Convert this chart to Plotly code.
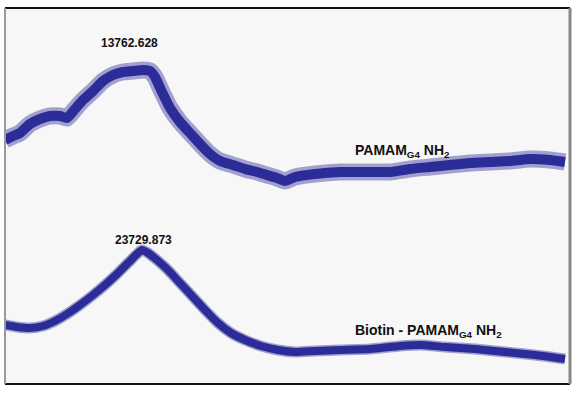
import plotly.graph_objects as go
from plotly.subplots import make_subplots

# Scan position (arbitrary units, left to right)
top_x = [0, 8, 15, 25, 35, 45, 55, 62, 70, 78, 88, 98, 108, 118, 128, 138, 145, 150, 157,
         165, 175, 185, 195, 205, 215, 228, 240, 252, 262, 272, 280, 290, 310, 335, 360, 385,
         405, 425, 445, 465, 485, 505, 525, 545, 560]
# Intensity of PAMAM G4 NH2 (arbitrary units)
top_y = [56, 60, 63, 72, 77, 80, 80, 78, 87, 96, 105, 115, 121, 124, 125, 126, 125, 119, 104,
         88, 74, 63, 52, 42, 35, 31, 27, 24, 21, 18, 15, 19, 22, 24, 24, 24,
         27, 29, 31, 33, 34, 35, 37, 36, 34]

bot_x = [0, 12, 25, 38, 50, 62, 75, 88, 100, 112, 124, 132, 137, 143, 152, 163, 175, 188,
         201, 213, 226, 240, 256, 273, 290, 310, 335, 365, 395, 415, 440, 470, 500, 530, 560]
# Intensity of Biotin-PAMAM G4 NH2 (arbitrary units)
bot_y = [59, 57, 56, 58, 63, 70, 79, 89, 99, 110, 122, 130, 134, 131, 124, 114, 101, 87,
         73, 61, 51, 44, 38, 34, 32, 33, 34, 35, 38, 39, 37, 35, 32, 29, 25]

top_peak_label = "13762.628"
top_peak_x = 124
top_peak_y = 153
bot_peak_label = "23729.873"
bot_peak_x = 138
bot_peak_y = 144

top_name = "PAMAM<sub>G4</sub> NH<sub>2</sub>"
bot_name = "Biotin - PAMAM<sub>G4</sub> NH<sub>2</sub>"

col = "#2c2c98"
halo = "rgba(44,44,152,0.42)"

fig = make_subplots(rows=2, cols=1, shared_xaxes=True, vertical_spacing=0)

for xs, ys, row, wcore, whalo in [(top_x, top_y, 1, 10, 17), (bot_x, bot_y, 2, 8, 11)]:
    fig.add_trace(go.Scatter(x=xs, y=ys, mode="lines",
                             line=dict(color=halo, width=whalo, shape="spline", smoothing=0.5),
                             hoverinfo="skip", showlegend=False), row=row, col=1)
    fig.add_trace(go.Scatter(x=xs, y=ys, mode="lines",
                             line=dict(color=col, width=wcore, shape="spline", smoothing=0.5),
                             showlegend=False), row=row, col=1)

fnt = dict(family="Liberation Sans, Arial, sans-serif", size=12, color="#111111")
fig.add_annotation(x=top_peak_x, y=top_peak_y, xref="x", yref="y", text="<b>%s</b>" % top_peak_label,
                   showarrow=False, font=fnt)
fig.add_annotation(x=bot_peak_x, y=bot_peak_y, xref="x2", yref="y2", text="<b>%s</b>" % bot_peak_label,
                   showarrow=False, font=fnt)
fig.add_annotation(x=397, y=45, xref="x", yref="y", text="<b>%s</b>" % top_name,
                   showarrow=False, font=dict(fnt, size=14))
fig.add_annotation(x=423, y=53, xref="x2", yref="y2", text="<b>%s</b>" % bot_name,
                   showarrow=False, font=dict(fnt, size=14))

for ax in ["xaxis", "xaxis2"]:
    fig.layout[ax].update(range=[0, 565], visible=False)
for ax in ["yaxis", "yaxis2"]:
    fig.layout[ax].update(range=[0, 188], visible=False)

# Frame
frame = [
    dict(x0=0, x1=1, y0=1, y1=1, color="#111111", w=2),
    dict(x0=0, x1=1, y0=0, y1=0, color="#111111", w=2),
    dict(x0=0, x1=0, y0=0, y1=1, color="#999999", w=2),
    dict(x0=1, x1=1, y0=0, y1=1, color="#888888", w=3),
]
for f in frame:
    fig.add_shape(type="line", xref="paper", yref="paper", x0=f["x0"], x1=f["x1"],
                  y0=f["y0"], y1=f["y1"], line=dict(color=f["color"], width=f["w"]))

fig.update_layout(width=584, height=395, margin=dict(l=5, r=14, t=8, b=11),
                  paper_bgcolor="white", plot_bgcolor="#f7f7f7")

fig.write_html("out.html", config={"displayModeBar": False},
               post_script="document.body.style.margin='0px';")
